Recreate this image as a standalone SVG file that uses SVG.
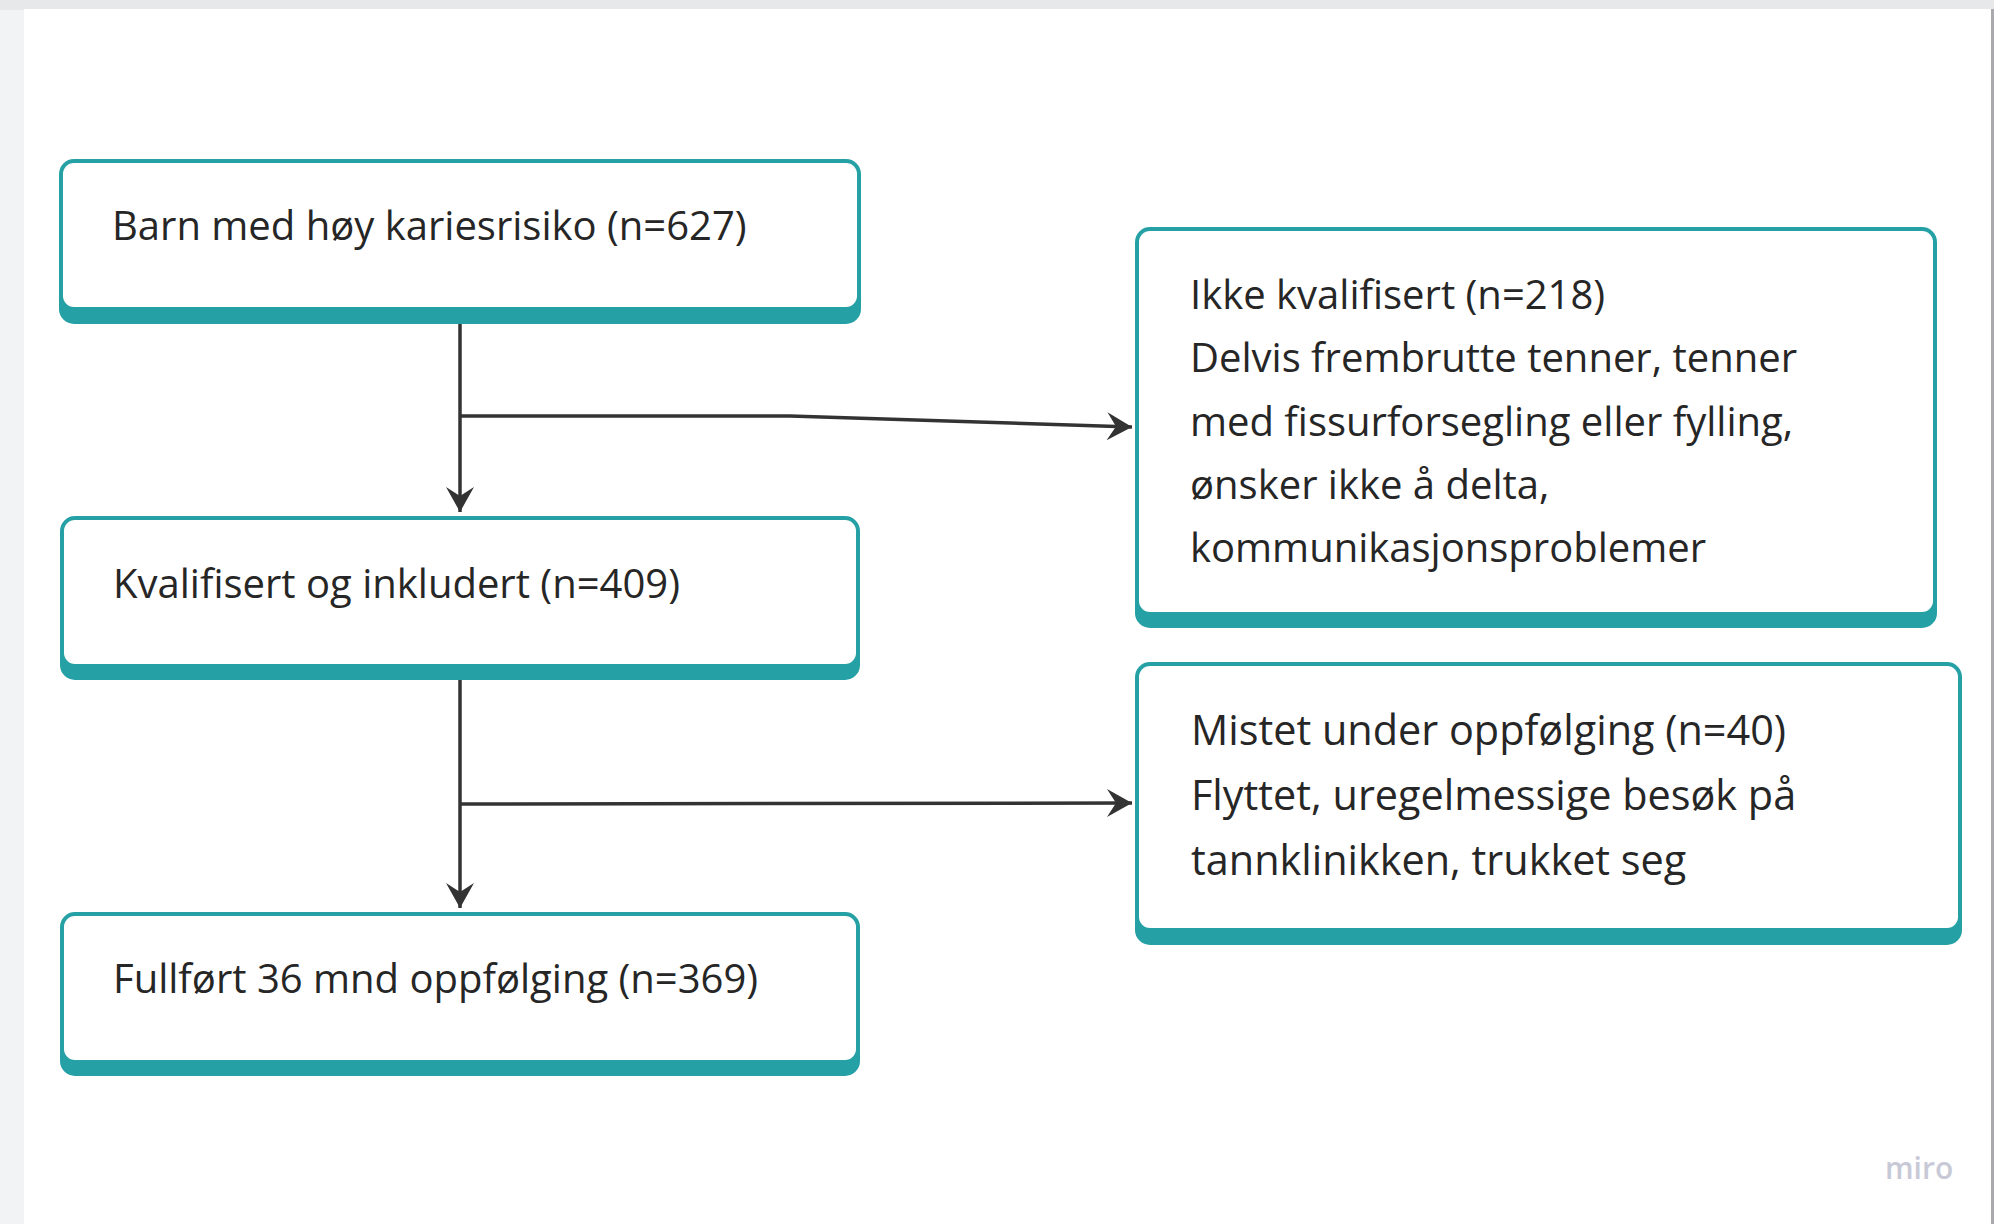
<svg xmlns="http://www.w3.org/2000/svg" width="1994" height="1224" viewBox="0 0 1994 1224">
  <defs>
    <linearGradient id="leftShade" x1="0" y1="0" x2="1" y2="0">
      <stop offset="0" stop-color="#f2f3f5"/>
      <stop offset="1" stop-color="#e6e7ea"/>
    </linearGradient>
    <marker id="arrow" viewBox="-27 -15 29 30" markerWidth="29" markerHeight="30" refX="0" refY="0" orient="auto" markerUnits="userSpaceOnUse">
      <path d="M0,0 L-25,-14 L-16,0 L-25,14 Z" fill="#333333"/>
    </marker>
  </defs>
  <style>
    .frame { fill: #25a1a6; }
    .inner { fill: #ffffff; }
    .label { font-family: "Open Sans", "Noto Sans", "Liberation Sans", sans-serif; font-size: 40px; fill: #262626; }
    .big { font-size: 41.4px; }
    .conn { fill: none; stroke: #333333; stroke-width: 3.5; }
    .wm { font-family: "Open Sans", "Noto Sans", sans-serif; font-size: 30px; font-weight: 600; fill: #c8c9d6; }
  </style>

  <!-- canvas background -->
  <rect x="0" y="0" width="1994" height="1224" fill="url(#leftShade)"/>
  <rect x="0" y="0" width="1994" height="10" fill="#e7e8ea"/>
  <rect x="24" y="9" width="1968" height="1215" fill="#ffffff"/>
  <rect x="1991" y="9" width="3" height="1215" fill="#a9aaad"/>

  <g id="connectors">
    <path class="conn" d="M460,324 L460,512" marker-end="url(#arrow)"/>
    <path class="conn" d="M460,416 L790,416 L1132,427" marker-end="url(#arrow)"/>
    <path class="conn" d="M460,680 L460,908" marker-end="url(#arrow)"/>
    <path class="conn" d="M460,804 L1132,803" marker-end="url(#arrow)"/>
  </g>

  <g id="node-barn">
    <rect class="frame" x="59" y="159" width="802" height="165" rx="15"/>
    <rect class="inner" x="63" y="163" width="794" height="144" rx="11"/>
    <text class="label" x="112" y="240">Barn med høy kariesrisiko (n=627)</text>
  </g>

  <g id="node-kvalifisert">
    <rect class="frame" x="60" y="516" width="800" height="164" rx="15"/>
    <rect class="inner" x="64" y="520" width="792" height="144" rx="11"/>
    <text class="label" x="113" y="598">Kvalifisert og inkludert (n=409)</text>
  </g>

  <g id="node-fullfort">
    <rect class="frame" x="60" y="912" width="800" height="164" rx="15"/>
    <rect class="inner" x="64" y="916" width="792" height="144" rx="11"/>
    <text class="label" x="113" y="993">Fullført 36 mnd oppfølging (n=369)</text>
  </g>

  <g id="node-ikke-kvalifisert">
    <rect class="frame" x="1135" y="227" width="802" height="401" rx="15"/>
    <rect class="inner" x="1139" y="231" width="794" height="381" rx="11"/>
    <text class="label">
      <tspan x="1190" y="309">Ikke kvalifisert (n=218)</tspan>
      <tspan x="1190" y="372">Delvis frembrutte tenner, tenner</tspan>
      <tspan x="1190" y="436">med fissurforsegling eller fylling,</tspan>
      <tspan x="1190" y="499">ønsker ikke å delta,</tspan>
      <tspan x="1190" y="562">kommunikasjonsproblemer</tspan>
    </text>
  </g>

  <g id="node-mistet">
    <rect class="frame" x="1135" y="662" width="827" height="283" rx="15"/>
    <rect class="inner" x="1139" y="666" width="819" height="262" rx="11"/>
    <text class="label big">
      <tspan x="1191" y="745">Mistet under oppfølging (n=40)</tspan>
      <tspan x="1191" y="810">Flyttet, uregelmessige besøk på</tspan>
      <tspan x="1191" y="875">tannklinikken, trukket seg</tspan>
    </text>
  </g>

  <text class="wm" x="1885" y="1179">miro</text>
</svg>
